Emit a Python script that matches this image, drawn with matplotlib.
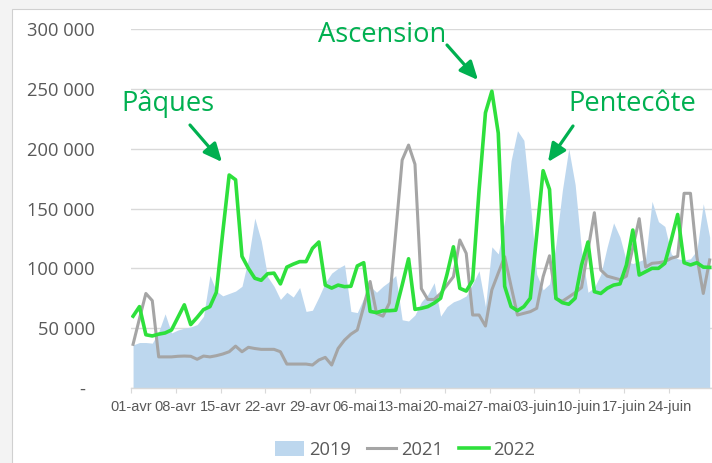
import numpy as np
import matplotlib
matplotlib.use("Agg")
import matplotlib.pyplot as plt
from matplotlib.patches import Rectangle, Patch
from matplotlib.lines import Line2D

plt.rcParams['font.family'] = ['Open Sans', 'DejaVu Sans']

# ---- data (daily, 01-avr .. 30-juin) ----
v2019 = [36, 38, 38, 37.5, 47, 62, 46, 48.5, 50, 51, 53, 60, 94, 81, 77, 79, 81, 85, 108, 142,
         123, 93, 85, 74, 80, 76, 84, 64, 65, 76, 88, 96, 100, 103, 64, 63, 75, 85, 80, 85,
         89, 94, 57, 56, 61, 72, 78, 88, 60, 68, 72, 74, 77, 87, 98, 68, 118, 112, 140, 190,
         215, 207, 155, 95, 82, 87, 120, 165, 200, 170, 115, 80, 84, 95, 118, 138, 126, 106, 104, 106,
         108, 156, 139, 135, 112, 108, 107, 108, 115, 154, 126]
v2021 = [36.5, 58, 79, 73, 26, 26, 26, 26.5, 26.7, 26.5, 24, 26.7, 26, 27, 28.4, 30.3, 35, 30.3, 34, 33,
         32.3, 32.3, 32.3, 30.3, 20, 20, 20, 20, 19.2, 23.4, 25.6, 19.2, 33, 40, 45, 48.5, 68, 89, 62.4, 60,
         71, 130, 190.5, 203, 187, 83, 74, 74, 79, 86, 93, 123.7, 112.5, 61, 61, 51.8, 82, 96, 109.7, 85,
         61, 62.4, 63.8, 66.6, 93, 110.5, 74.5, 72.5, 76, 79.7, 84, 115, 146.5, 98.6, 93.5, 92, 90.5, 93.5, 117, 141.5,
         101, 104.2, 104.7, 105.6, 108.4, 110, 162.7, 162.7, 109.7, 79, 107]
v2022 = [60, 68, 44.5, 43.5, 45, 46, 48.5, 59, 69.5, 53, 59, 65.5, 68, 80, 130, 178, 174, 110, 100, 91.7,
         90, 95.5, 96, 87, 101, 103.5, 105.6, 105.6, 116.7, 122, 86, 83.5, 86, 84.7, 85, 102, 104.7, 64, 63, 64.6,
         64.6, 65, 86, 108, 65.7, 66.6, 68, 71, 75, 95, 118, 83.3, 81, 90, 165, 230, 248, 213, 85, 68,
         64.6, 68, 75, 128, 181.6, 166, 75, 71.3, 70, 75, 102.8, 122, 80.5, 79, 83.3, 86, 87, 102.8, 132, 94.4,
         97.2, 100, 100, 104.2, 123.7, 145, 104.7, 102.8, 104.7, 101, 100.8]
series_labels = ['2019', '2021', '2022']
xtick_labels = ['01-avr', '08-avr', '15-avr', '22-avr', '29-avr', '06-mai', '13-mai',
                '20-mai', '27-mai', '03-juin', '10-juin', '17-juin', '24-juin']
ytick_values = [0, 50000, 100000, 150000, 200000, 250000, 300000]
ytick_labels = ['-  ', '50 000', '100 000', '150 000', '200 000', '250 000', '300 000']
annotations = ['Pâques', 'Ascension', 'Pentecôte']

y19 = np.array(v2019) * 1000
y21 = np.array(v2021) * 1000
y22 = np.array(v2022) * 1000
x = np.arange(len(y19)) + 0.35

W, H = 712, 463
fig = plt.figure(figsize=(W / 100, H / 100), dpi=100)
fig.patch.set_facecolor('#f3f3f3')
fig.add_artist(Rectangle((12 / W, -0.05), 1.2, (H - 9) / H + 0.05, transform=fig.transFigure,
                         facecolor='white', edgecolor='#d0d0d0', lw=0.8, zorder=0))

ax = fig.add_axes([130.5 / W, 1 - 388 / H, (W - 130.5) / W, (388 - 29) / H])
ax.set_facecolor('white')
ax.set_axisbelow(True)

c19, c21, c22 = '#bdd7ee', '#a5a5a5', '#2ee03c'
ax.fill_between(x, 0, y19, color=c19, lw=0, zorder=1)
ax.plot(x, y21, color=c21, lw=2.2, solid_joinstyle='round', zorder=2)
ax.plot(x, y22, color=c22, lw=2.6, solid_joinstyle='round', zorder=3)

ax.set_xlim(-0.05, 90.71)
ax.set_ylim(0, 300000)
ax.set_yticks(ytick_values)
ax.set_yticklabels(ytick_labels)
ax.set_xticks(np.arange(len(xtick_labels)) * 7)
ax.set_xticklabels(xtick_labels)

for s in ['left', 'right', 'top']:
    ax.spines[s].set_visible(False)
ax.spines['bottom'].set_color('#d9d9d9')
ax.spines['bottom'].set_linewidth(1.0)
ax.yaxis.grid(True, color='#d9d9d9', lw=1.0)

ax.tick_params(axis='y', length=0, pad=25.5, labelsize=13.2, labelcolor='#595959')
ax.tick_params(axis='x', length=3.6, width=0.8, color='#d9d9d9', pad=5,
               labelsize=9.5, labelcolor='#595959')
for lab in ax.get_xticklabels():
    lab.set_fontfamily(['Liberation Sans Narrow', 'Liberation Sans', 'DejaVu Sans'])
    lab.set_fontsize(10.5)

# legend
handles = [Patch(facecolor=c19, edgecolor='none'),
           Line2D([], [], color=c21, lw=2.2),
           Line2D([], [], color=c22, lw=2.6)]
fig.legend(handles, series_labels, loc='center', bbox_to_anchor=(405 / W, 1 - 450 / H),
           ncol=3, frameon=False, fontsize=13.2, handlelength=1.6, handleheight=0.85,
           handletextpad=0.25, columnspacing=0.9, labelcolor='#595959')

# annotations
ac = '#00b050'
text_pos = [(121, 111), (318, 42), (568, 111)]
for t, (tx, ty) in zip(annotations, text_pos):
    fig.text(tx / W, 1 - ty / H, t, fontsize=19.6, color=ac, va='baseline', ha='left')

arrows = [((190, 125), (222, 162)), ((447, 45), (478, 80)), ((573, 126), (548, 162))]
for (sx, sy), (tx, ty) in arrows:
    ax.annotate('', xy=(tx, H - ty), xytext=(sx, H - sy), xycoords='figure pixels',
                textcoords='figure pixels',
                arrowprops=dict(arrowstyle='-|>,head_length=1.1,head_width=0.5', mutation_scale=10,
                                color=ac, lw=2.3, shrinkA=0, shrinkB=0))

fig.savefig('out.png', dpi=100)
